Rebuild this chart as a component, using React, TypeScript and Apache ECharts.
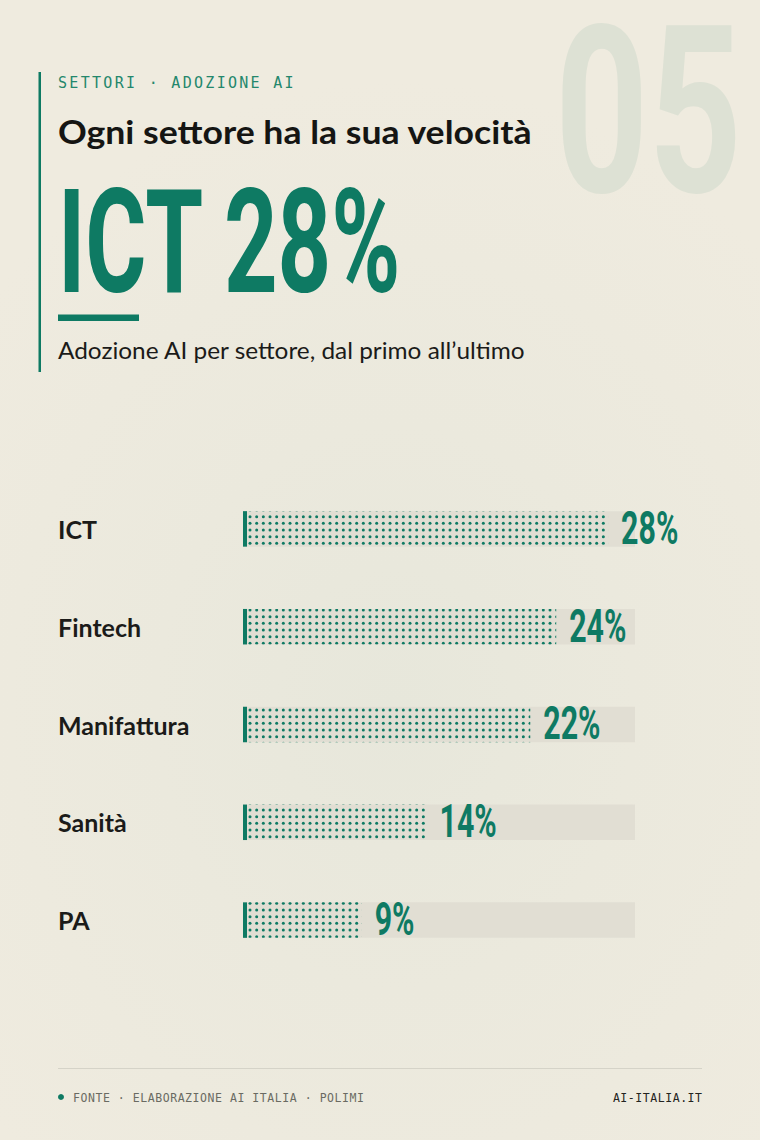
import React, { useEffect, useRef } from "react";
import * as echarts from "echarts";

const categories = ["ICT", "Fintech", "Manifattura", "Sanità", "PA"];
const values = [28, 24, 22, 14, 9];
const valueLabels = ["28%", "24%", "22%", "14%", "9%"];
const axisMax = 30;

const kicker = "SETTORI · ADOZIONE AI";
const title = "Ogni settore ha la sua velocità";
const headline = "ICT 28%";
const subtitle = "Adozione AI per settore, dal primo all’ultimo";
const sectionNumber = "05";
const sourceText = "FONTE · ELABORAZIONE AI ITALIA · POLIMI";
const siteText = "AI-ITALIA.IT";

const GREEN = "#0e7a63";
const TRACK = "#e1ded3";

function makeDotTile(): HTMLCanvasElement {
  const c = document.createElement("canvas");
  c.width = 20;
  c.height = 20;
  const ctx = c.getContext("2d")!;
  ctx.fillStyle = GREEN;
  const offs = [3.333, 10, 16.667];
  for (const ox of offs) {
    for (const oy of offs) {
      ctx.beginPath();
      ctx.arc(ox, oy, 1.5, 0, Math.PI * 2);
      ctx.fill();
    }
  }
  return c;
}

export default function App() {
  const ref = useRef<HTMLDivElement>(null);

  useEffect(() => {
    if (!ref.current) return;
    const chart = echarts.init(ref.current, null, { renderer: "svg" });
    const tile = makeDotTile();

    const option: any = {
      animation: false,
      backgroundColor: "transparent",
      grid: { left: 246, right: 125, top: 480, height: 489 },
      xAxis: {
        type: "value",
        min: 0,
        max: axisMax,
        show: false,
      },
      yAxis: {
        type: "category",
        data: categories,
        inverse: true,
        axisLine: { show: false },
        axisTick: { show: false },
        splitLine: { show: false },
        axisLabel: {
          margin: 188,
          align: "left",
          color: "#1b1b19",
          fontFamily: "Lato",
          fontWeight: "bold",
          fontSize: 25,
          padding: [0, 0, 3, 0],
        },
      },
      series: [
        {
          type: "custom",
          encode: { x: 0, y: 1 },
          data: values.map((v, i) => [v, i]),
          renderItem: (params: any, api: any) => {
            const idx = params.dataIndex;
            const v = api.value(0);
            const start = api.coord([0, idx]);
            const end = api.coord([v, idx]);
            const full = api.coord([axisMax, idx]);
            const h = 35.5;
            const top = start[1] - h / 2;
            const capW = 4;
            const x0 = start[0] - 3;
            return {
              type: "group",
              children: [
                {
                  type: "rect",
                  shape: { x: x0, y: top, width: full[0] - x0, height: h },
                  style: { fill: TRACK },
                },
                {
                  type: "rect",
                  shape: { x: x0 + capW, y: top, width: end[0] - (x0 + capW) - 1, height: h },
                  style: {
                    fill: {
                      image: tile,
                      repeat: "repeat",
                      imageWidth: 20,
                      imageHeight: 20,
                      x: x0 + capW,
                      y: top - 4.3,
                    },
                  },
                },
                {
                  type: "rect",
                  shape: { x: x0, y: top, width: capW, height: h },
                  style: { fill: GREEN },
                },
                {
                  type: "text",
                  x: end[0] + 12,
                  y: start[1] - 0.5,
                  scaleX: 0.66,
                  style: {
                    text: valueLabels[idx],
                    fill: GREEN,
                    font: "bold 46px Roboto",
                    verticalAlign: "middle",
                    align: "left",
                  },
                },
              ],
            };
          },
        },
      ],
      graphic: [
        {
          type: "text",
          x: 555,
          y: 112,
          scaleX: 0.905,
          scaleY: 1.3,
          z: 0,
          style: {
            text: sectionNumber,
            fill: "#dde1d4",
            font: "bold 180px Roboto",
            verticalAlign: "middle",
          },
        },
        {
          type: "rect",
          shape: { x: 38.5, y: 72, width: 2.5, height: 300 },
          style: { fill: GREEN },
        },
        {
          type: "text",
          x: 58,
          y: 82.5,
          style: {
            text: kicker,
            fill: "#24876c",
            font: "15px 'DejaVu Sans Mono'",
            verticalAlign: "middle",
          },
        },
        {
          type: "text",
          x: 58,
          y: 131.5,
          scaleX: 1.08,
          style: {
            text: title,
            fill: "#151513",
            font: "bold 33px Lato",
            verticalAlign: "middle",
          },
        },
        {
          type: "text",
          x: 58,
          y: 242.5,
          scaleX: 0.645,
          style: {
            text: headline,
            fill: GREEN,
            font: "bold 145px Roboto",
            verticalAlign: "middle",
          },
        },
        {
          type: "rect",
          shape: { x: 58, y: 314.5, width: 81, height: 6.5 },
          style: { fill: GREEN },
        },
        {
          type: "text",
          x: 58,
          y: 350,
          scaleX: 1.06,
          style: {
            text: subtitle,
            fill: "#1b1b19",
            font: "23px Lato",
            verticalAlign: "middle",
          },
        },
        {
          type: "line",
          shape: { x1: 58, y1: 1068.5, x2: 702, y2: 1068.5 },
          style: { stroke: "#d5d3c8", lineWidth: 1 },
        },
        {
          type: "circle",
          shape: { cx: 61, cy: 1097, r: 3 },
          style: { fill: GREEN },
        },
        {
          type: "text",
          x: 73,
          y: 1097.5,
          style: {
            text: sourceText,
            fill: "#6a6a62",
            font: "11.5px 'DejaVu Sans Mono'",
            verticalAlign: "middle",
          },
        },
        {
          type: "text",
          x: 702,
          y: 1097.5,
          style: {
            text: siteText,
            fill: "#232320",
            font: "11.5px 'DejaVu Sans Mono'",
            verticalAlign: "middle",
            align: "right",
          },
        },
      ],
    };

    chart.setOption(option);

    // letter spacing for the monospace captions
    const spacing: Record<string, number> = {
      [kicker]: 2.3,
      [sourceText]: 0.55,
      [siteText]: 0.55,
    };
    ref.current.querySelectorAll("text").forEach((t) => {
      const s = spacing[t.textContent || ""];
      if (s != null) {
        t.setAttribute("letter-spacing", String(s));
        if ((t.textContent || "") === siteText) {
          t.setAttribute("dx", String(s));
        }
      }
    });

    return () => chart.dispose();
  }, []);

  return (
    <div
      style={{
        position: "absolute",
        left: 0,
        top: 0,
        width: 760,
        height: 1140,
        background:
          "radial-gradient(ellipse 70% 55% at 52% 62%, #e7e7db 0%, #ebe9dd 45%, #efebdf 100%)",
      }}
    >
      <div ref={ref} style={{ width: 760, height: 1140 }} />
    </div>
  );
}
